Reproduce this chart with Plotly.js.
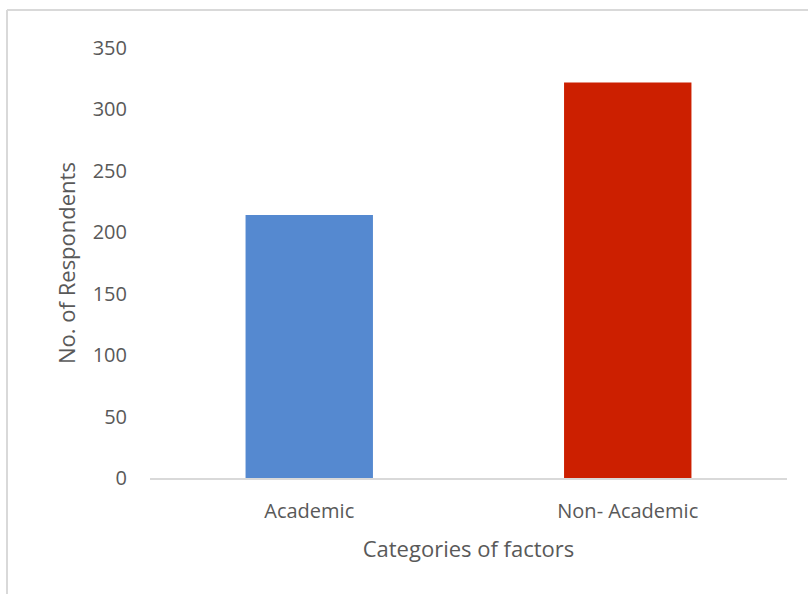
<!DOCTYPE html>
<html>
<head>
<meta charset="utf-8">
<script src="https://cdn.plot.ly/plotly-3.0.1.min.js"></script>
<style>
html,body{margin:0;padding:0;background:#fff;}
#chart{width:808px;height:594px;}
</style>
</head>
<body>
<div id="chart"></div>
<script>
var categories = ["Academic", "Non- Academic"];
var respondents = [214, 322];
var barColors = ["#5589d0", "#cc1f00"];

var trace = {
  type: "bar",
  x: categories,
  y: respondents,
  marker: {color: barColors, line: {width: 0}},
  hoverinfo: "x+y"
};

var W = 637, H = 430;
var layout = {
  width: 808,
  height: 594,
  margin: {l: 150, r: 21, t: 48, b: 116},
  paper_bgcolor: "#ffffff",
  plot_bgcolor: "#ffffff",
  bargap: 0.6,
  showlegend: false,
  font: {family: "Open Sans, sans-serif", color: "#595959"},
  xaxis: {
    showgrid: false,
    showline: true,
    linecolor: "#d9d9d9",
    linewidth: 2,
    ticks: "",
    tickfont: {size: 20, color: "#595959"},
    ticklabelstandoff: 14,
    title: {text: "Categories of factors", font: {size: 22, color: "#595959"}, standoff: 19}
  },
  yaxis: {
    range: [0, 350],
    dtick: 50,
    showgrid: false,
    zeroline: false,
    showline: false,
    ticks: "",
    tickfont: {size: 20, color: "#595959"},
    ticklabelstandoff: 22,
    title: {text: "No. of Respondents", font: {size: 22, color: "#595959"}, standoff: 10}
  },
  shapes: [
    {type: "line", xref: "paper", yref: "paper",
     x0: -143/W, x1: -143/W, y0: -130/H, y1: 1 + 38/H,
     line: {color: "#d9d9d9", width: 2}, layer: "below"},
    {type: "line", xref: "paper", yref: "paper",
     x0: -143/W, x1: 1 + 30/W, y0: 1 + 38/H, y1: 1 + 38/H,
     line: {color: "#d9d9d9", width: 2}, layer: "below"}
  ]
};

Plotly.newPlot("chart", [trace], layout, {displayModeBar: false, staticPlot: true});
</script>
</body>
</html>
